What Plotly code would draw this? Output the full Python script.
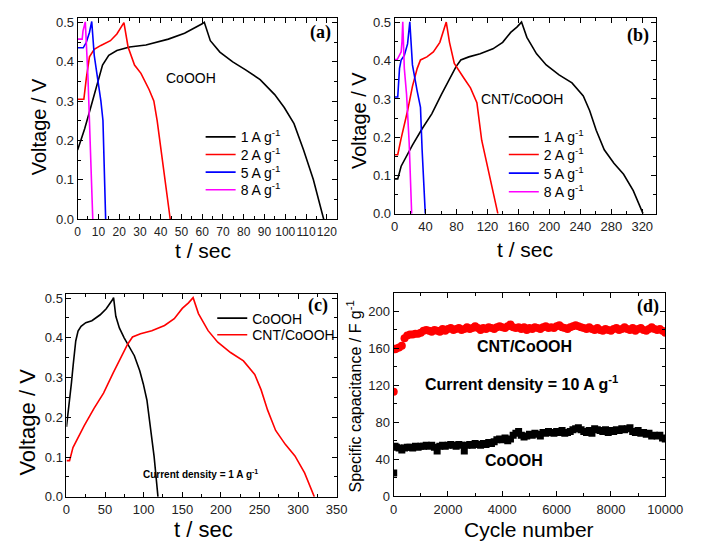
import plotly.graph_objects as go

W, H = 701, 544

# ---------------- Data ----------------
# Panel (a): CoOOH at different current densities (t in s, V in V)
a1_t = [0, 3.4, 6.5, 8.8, 12, 15, 18.9, 25, 32.9, 43.7, 51.5, 60, 61, 63.9, 68.5, 74.7, 80.9, 87.9, 94.9, 99.5, 104.2, 108.8, 113.5, 118.5]
a1_v = [0.176, 0.230, 0.288, 0.334, 0.392, 0.417, 0.429, 0.438, 0.443, 0.458, 0.473, 0.497, 0.501, 0.454, 0.425, 0.400, 0.380, 0.355, 0.317, 0.284, 0.243, 0.176, 0.101, 0.0]
a2_t = [0, 3, 4.2, 5.7, 8, 11.2, 15.8, 18.9, 22.3, 24.3, 27.4, 30.5, 34.4, 36.7, 38.3, 39.8, 42.2, 44.6]
a2_v = [0.305, 0.305, 0.359, 0.413, 0.432, 0.442, 0.454, 0.471, 0.500, 0.438, 0.392, 0.371, 0.330, 0.301, 0.251, 0.193, 0.101, 0.0]
a5_t = [0, 2.7, 4.2, 5.7, 6.8, 8, 9.6, 11.2, 12.2, 13.5]
a5_v = [0.436, 0.436, 0.450, 0.475, 0.503, 0.417, 0.359, 0.301, 0.251, 0.0]
a8_t = [0, 2.2, 2.6, 3.7, 5, 6, 7.3]
a8_v = [0.458, 0.458, 0.479, 0.502, 0.359, 0.193, 0.0]

# Panel (b): CNT/CoOOH at different current densities
b1_t = [0, 4, 8.4, 14.6, 23, 35.5, 48, 60.5, 70.9, 79.2, 85.5, 95.9, 110.5, 127, 139.6, 150, 158, 164, 170.9, 183.4, 195.9, 212.5, 229.2, 243.8, 252.1, 260.5, 270.9, 283.4, 295.9, 308.4, 321]
b1_v = [0.091, 0.091, 0.124, 0.149, 0.179, 0.222, 0.261, 0.312, 0.354, 0.384, 0.402, 0.410, 0.418, 0.431, 0.448, 0.474, 0.488, 0.501, 0.461, 0.418, 0.389, 0.363, 0.342, 0.308, 0.269, 0.218, 0.167, 0.132, 0.103, 0.060, 0.0]
b2_t = [0, 4, 8.4, 16.7, 23, 29.2, 33.4, 41.7, 50, 58.4, 66.7, 70.9, 77.1, 83.4, 89.6, 98, 106.3, 112.5, 118.8, 127.1, 133.4]
b2_v = [0.154, 0.154, 0.197, 0.269, 0.333, 0.380, 0.402, 0.410, 0.423, 0.448, 0.501, 0.448, 0.393, 0.372, 0.354, 0.329, 0.290, 0.192, 0.132, 0.060, 0.0]
b5_t = [0, 4, 6.3, 8.4, 12.5, 16.7, 19.6, 23, 29.2, 33.4, 35.5, 39.6]
b5_v = [0.305, 0.305, 0.380, 0.402, 0.414, 0.444, 0.502, 0.389, 0.320, 0.278, 0.167, 0.0]
b8_t = [0, 3.3, 8.4, 9.5, 10.5, 12.5, 15.4, 18.8, 22]
b8_v = [0.403, 0.403, 0.423, 0.450, 0.502, 0.380, 0.312, 0.184, 0.0]

# Panel (d): cycling stability at 10 A/g
cycles = [1, 50] + list(range(100, 10001, 100))
cap_cnt = [113, 159, 160, 161, 163, 171, 174, 175, 175, 176, 176, 177, 179, 180, 179, 178, 180, 179, 178, 181, 179,
           181, 182, 180, 181, 182, 180, 181, 183, 181, 182, 184, 182, 180, 182, 181, 183, 182, 181, 183, 184,
           183, 182, 184, 186, 183, 182, 183, 181, 183, 180, 182, 181, 183, 182, 181, 183, 184, 182, 183, 182,
           184, 185, 183, 182, 181, 183, 184, 185, 184, 183, 182, 181, 183, 181, 180, 182, 180, 179, 181, 180,
           179, 181, 182, 180, 181, 183, 181, 180, 182, 179, 181, 182, 180, 179, 181, 183, 181, 180, 181, 179, 177]
cap_co = [25, 54, 53, 52, 50, 52, 53, 53, 52, 54, 53, 54, 54, 55, 54, 55, 53, 49, 54, 55, 54,
          55, 56, 55, 54, 56, 55, 49, 55, 56, 55, 57, 56, 55, 57, 56, 58, 57, 59, 61, 62,
          61, 63, 60, 62, 66, 68, 70, 66, 64, 65, 67, 66, 68, 67, 65, 69, 68, 70, 69, 68,
          70, 69, 71, 68, 69, 70, 72, 73, 74, 72, 70, 69, 71, 68, 73, 72, 71, 70, 72, 69,
          71, 70, 72, 71, 73, 72, 73, 74, 70, 69, 71, 68, 69, 67, 68, 65, 66, 65, 66, 63, 62]

legend_names = ["1 A g<sup>-1</sup>", "2 A g<sup>-1</sup>", "5 A g<sup>-1</sup>", "8 A g<sup>-1</sup>"]
rate_colors = ["#000000", "#ff0000", "#0000ff", "#ff00ff"]

# ---------------- Figure ----------------
fig = go.Figure()

def line(x, y, color, name, xa, ya, lg):
    fig.add_trace(go.Scatter(x=x, y=y, mode="lines", name=name, line=dict(color=color, width=1.6),
                             xaxis=xa, yaxis=ya, legend=lg, showlegend=True))

a_sets = [(a1_t, a1_v), (a2_t, a2_v), (a5_t, a5_v), (a8_t, a8_v)]
b_sets = [(b1_t, b1_v), (b2_t, b2_v), (b5_t, b5_v), (b8_t, b8_v)]
for i, ((t, v), c, n) in enumerate(zip(a_sets, rate_colors, legend_names)):
    line(t, v, c, n, "x", "y", "legend" if i == 0 else "legend%d" % (i + 1))
for i, ((t, v), c, n) in enumerate(zip(b_sets, rate_colors, legend_names)):
    line(t, v, c, n, "x2", "y2", "legend%d" % (i + 5))
line(a1_t, a1_v, "#000000", "CoOOH", "x3", "y3", "legend9")
line(b1_t, b1_v, "#ff0000", "CNT/CoOOH", "x3", "y3", "legend10")

fig.add_trace(go.Scatter(x=cycles, y=cap_cnt, mode="markers", name="CNT/CoOOH", showlegend=False,
                         marker=dict(symbol="circle", size=8, color="#ff0000", line=dict(width=0)),
                         xaxis="x4", yaxis="y4"))
fig.add_trace(go.Scatter(x=cycles, y=cap_co, mode="markers", name="CoOOH", showlegend=False,
                         marker=dict(symbol="square", size=7, color="#000000", line=dict(width=0)),
                         xaxis="x4", yaxis="y4"))

def px2x(px):
    return px / W

def px2y(py):
    return 1 - py / H

SANS = "Liberation Sans, Arial, sans-serif"

def axis(dom, rng, dtick, mdtick, anchor, fmt, fs=13, standoff=0):
    return dict(domain=dom, range=rng, dtick=dtick, tick0=0, ticks="inside", ticklen=5, tickwidth=1,
                tickcolor="black", showline=True, linecolor="black", linewidth=1, mirror="ticks",
                showgrid=False, zeroline=False, tickangle=0, tickformat=fmt, ticklabelstandoff=standoff,
                tickfont=dict(family=SANS, size=fs, color="#222222"), anchor=anchor,
                minor=dict(dtick=mdtick, ticks="inside", ticklen=3, tickcolor="black", showgrid=False))

fig.update_layout(
    width=W, height=H, margin=dict(l=0, r=0, t=0, b=0),
    paper_bgcolor="white", plot_bgcolor="white",
    xaxis=axis([px2x(76), px2x(344)], [0, 125], 10, 5, "y", "d", 12, 1),
    yaxis=axis([px2y(220.7), px2y(15)], [0, 0.5125], 0.1, 0.05, "x", ".1f"),
    xaxis2=axis([px2x(403.3), px2x(673.3)], [0, 338], 40, 20, "y2", "d", 13, 1),
    yaxis2=axis([px2y(215), px2y(15)], [0, 0.5125], 0.1, 0.05, "x2", ".1f"),
    xaxis3=axis([px2x(64.5), px2x(343.5)], [0, 350], 50, 25, "y3", "d", 13, 1),
    yaxis3=axis([px2y(504), px2y(296.7)], [0, 0.511], 0.1, 0.05, "x3", ".1f"),
    xaxis4=axis([px2x(402.3), px2x(682.7)], [0, 10000], 2000, 1000, "y4", "d", 13, 1),
    yaxis4=axis([px2y(503.3), px2y(296)], [0, 220], 40, 20, "x4", "d"),
)

legfont = dict(family=SANS, size=14, color="black")
def leg(xpx, ypx):
    return dict(x=px2x(xpx), y=px2y(ypx), xanchor="left", yanchor="middle", bgcolor="rgba(0,0,0,0)",
                borderwidth=0, font=legfont, itemwidth=30, tracegroupgap=0)

legs = {}
for i, yy in enumerate([137, 155, 173, 191]):
    legs["legend" if i == 0 else "legend%d" % (i + 1)] = leg(203, yy)
for i, yy in enumerate([137, 155, 174, 193]):
    legs["legend%d" % (i + 5)] = leg(516, yy)
legs["legend9"] = leg(215, 322)
legs["legend10"] = leg(215, 339)
fig.update_layout(**legs)

ann = []
def text(xpx, ypx, s, size, bold=False, serif=False, angle=0, family=None):
    fam = family or ("Liberation Serif, Times New Roman, serif" if serif else SANS)
    if bold:
        s = "<b>" + s + "</b>"
    ann.append(dict(x=px2x(xpx), y=px2y(ypx), xref="paper", yref="paper", text=s, showarrow=False,
                    font=dict(family=fam, size=size, color="black"), textangle=angle,
                    xanchor="center", yanchor="middle"))

# panel labels
text(327, 30, "(a)", 18, bold=True, serif=True)
text(655, 33, "(b)", 18, bold=True, serif=True)
text(324, 309, "(c)", 18, bold=True, serif=True)
text(665, 310, "(d)", 18, bold=True, serif=True)
# inner labels
text(193, 77, "CoOOH", 14)
text(535, 98, "CNT/CoOOH", 14)
text(203, 481, "Current density = 1 A g<sup>-1</sup>", 10, bold=True)
text(537, 351, "CNT/CoOOH", 16, bold=True)
text(534, 388, "Current density = 10 A g<sup>-1</sup>", 16, bold=True)
text(527, 467, "CoOOH", 16, bold=True)
# axis titles
text(205, 253, "t / sec", 21)
text(538, 252, "t / sec", 21)
text(206, 537, "t / sec", 22)
text(542, 537, "Cycle number", 21)
text(37, 126, "Voltage / V", 20, angle=-90)
text(366, 120, "Voltage / V", 20, angle=-90)
text(24, 428, "Voltage / V", 22, angle=-90)
text(361, 402, "Specific capacitance / F g<sup>-1</sup>", 16, angle=-90)

fig.update_layout(annotations=ann)
fig.write_html("out.html")
